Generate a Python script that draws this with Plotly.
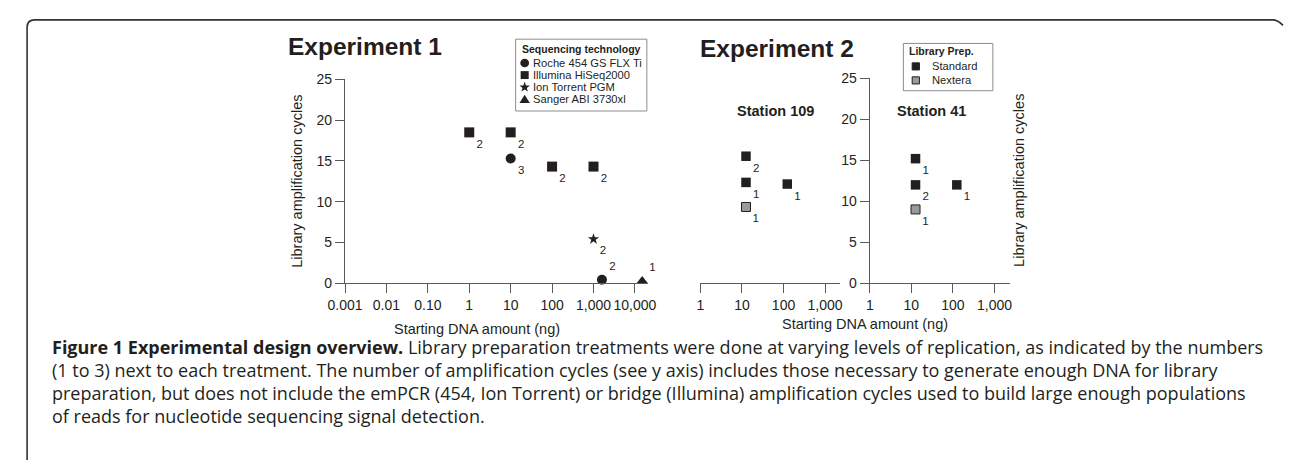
import numpy as np
import plotly.graph_objects as go

# ---------------- data ----------------
exp1_tick_vals = [0.001, 0.01, 0.1, 1, 10, 100, 1000, 10000]
exp1_tick_text = ["0.001", "0.01", "0.10", "1", "10", "100", "1,000", "10,000"]
exp2_tick_vals = [1, 10, 100, 1000]
exp2_tick_text = ["1", "10", "100", "1,000"]
cycle_ticks = [0, 5, 10, 15, 20, 25]

tech_names = ["Roche 454 GS FLX Ti", "Illumina HiSeq2000", "Ion Torrent PGM", "Sanger ABI 3730xl"]

# Experiment 1: starting DNA (ng), amplification cycles, replicates
roche_dna = [0.01, 10, 1600]
roche_cycles = [25.2, 15.3, 0.4]
roche_reps = [3, 3, 2]

illumina_dna = [1, 10, 100, 1000]
illumina_cycles = [18.5, 18.5, 14.3, 14.3]
illumina_reps = [2, 2, 2, 2]

iontorrent_dna = [1000]
iontorrent_cycles = [5.4]
iontorrent_reps = [2]

sanger_dna = [15000]
sanger_cycles = [0.3]
sanger_reps = [1]

# Experiment 2
prep_names = ["Standard", "Nextera"]
st109_std_dna = [12.5, 12.5, 123]
st109_std_cycles = [15.5, 12.3, 12.1]
st109_std_reps = [2, 1, 1]
st109_nxt_dna = [12.5]
st109_nxt_cycles = [9.3]
st109_nxt_reps = [1]

st41_std_dna = [12.6, 12.6, 124]
st41_std_cycles = [15.2, 12.0, 12.0]
st41_std_reps = [1, 2, 1]
st41_nxt_dna = [12.6]
st41_nxt_cycles = [9.0]
st41_nxt_reps = [1]

caption_lines = [
    "<b>Figure 1 Experimental design overview.</b> Library preparation treatments were done at varying levels of replication, as indicated by the numbers",
    "(1 to 3) next to each treatment. The number of amplification cycles (see y axis) includes those necessary to generate enough DNA for library",
    "preparation, but does not include the emPCR (454, Ion Torrent) or bridge (Illumina) amplification cycles used to build large enough populations",
    "of reads for nucleotide sequencing signal detection.",
]

# ---------------- styling / layout helpers ----------------
W, H = 1290, 460
FONT = "Liberation Sans, Arial, Helvetica, sans-serif"
INK = "#231f20"
AX = "#5a5a5a"
GRAY = "#9a9a9a"


def fx(px):
    return px / W


def fy(py):
    return 1 - py / H


def pt(px, py):
    return f"{fx(px):.5f},{fy(py):.5f}"


fig = go.Figure()

label_font = dict(family=FONT, size=11.5, color=INK)


def add_points(xs, ys, reps, symbol, size, xa, ya, fill=INK, positions=None, name=None):
    if positions is None:
        positions = ["bottom right"] * len(xs)
    fig.add_trace(go.Scatter(
        x=xs, y=ys, text=[str(r) for r in reps], mode="markers+text",
        textposition=positions, textfont=label_font,
        marker=dict(symbol=symbol, size=size, color=fill,
                    line=dict(color=INK, width=1 if fill != INK else 0)),
        xaxis=xa, yaxis=ya, cliponaxis=False, showlegend=False, name=name,
        hoverinfo="x+y",
    ))


add_points(roche_dna, roche_cycles, roche_reps, "circle", 10, "x", "y",
           positions=["bottom right", "bottom right", "top right"], name=tech_names[0])
add_points(illumina_dna, illumina_cycles, illumina_reps, "square", 10, "x", "y", name=tech_names[1])
add_points(iontorrent_dna, iontorrent_cycles, iontorrent_reps, "star", 8.5, "x", "y", name=tech_names[2])
add_points(sanger_dna, sanger_cycles, sanger_reps, "triangle-up", 9.5, "x", "y",
           positions=["top right"], name=tech_names[3])

add_points(st109_std_dna, st109_std_cycles, st109_std_reps, "square", 9.5, "x2", "y2", name=prep_names[0])
add_points(st109_nxt_dna, st109_nxt_cycles, st109_nxt_reps, "square", 9, "x2", "y2", fill=GRAY, name=prep_names[1])
add_points(st41_std_dna, st41_std_cycles, st41_std_reps, "square", 9.5, "x3", "y3", name=prep_names[0])
add_points(st41_nxt_dna, st41_nxt_cycles, st41_nxt_reps, "square", 9, "x3", "y3", fill=GRAY, name=prep_names[1])

tickfont = dict(family=FONT, size=14, color=INK)
common_x = dict(type="log", showgrid=False, zeroline=False, showline=True, linecolor=AX, linewidth=1.2,
                ticks="outside", ticklen=9, tickwidth=1.2, tickcolor=AX, tickfont=tickfont,
                fixedrange=True)
common_y = dict(range=[0, 25], showgrid=False, zeroline=False, showline=True, linecolor=AX, linewidth=1.2,
                ticks="outside", ticklen=9, tickwidth=1.2, tickcolor=AX, tickfont=tickfont,
                tickvals=cycle_ticks, fixedrange=True)

dec1 = 42.3
dec2 = 42.45
fig.update_layout(
    width=W, height=H, margin=dict(l=0, r=0, t=0, b=0),
    paper_bgcolor="white", plot_bgcolor="rgba(0,0,0,0)",
    showlegend=False,
    xaxis=dict(common_x, domain=[fx(334), fx(643)], range=[-3, -3 + (643 - 334) / dec1],
               tickvals=exp1_tick_vals, ticktext=exp1_tick_text, anchor="y"),
    yaxis=dict(common_y, domain=[fy(285), fy(74)], anchor="x"),
    xaxis2=dict(common_x, domain=[fx(697), fx(840)], range=[0, (840 - 697) / dec2],
                tickvals=exp2_tick_vals, ticktext=exp2_tick_text, anchor="y2"),
    yaxis2=dict(range=[0, 25], domain=[fy(285), fy(73)], visible=False, anchor="x2", fixedrange=True),
    xaxis3=dict(common_x, domain=[fx(870), fx(1013)], range=[0, (1013 - 870) / dec2],
                tickvals=exp2_tick_vals, ticktext=exp2_tick_text, anchor="y3"),
    yaxis3=dict(common_y, domain=[fy(285), fy(73)], anchor="x3"),
)

ann = []


def text(px, py, s, size, bold=False, xanchor="left", angle=0, family=FONT, color=INK):
    ann.append(dict(x=fx(px), y=fy(py), xref="paper", yref="paper", text=f"<b>{s}</b>" if bold else s,
                    showarrow=False, xanchor=xanchor, yanchor="middle", textangle=angle,
                    font=dict(family=family, size=size, color=color)))


# titles
text(274, 40, "Experiment 1", 24.5, bold=True)
text(695, 42, "Experiment 2", 24.5, bold=True)
text(774, 107, "Station 109", 14.5, bold=True, xanchor="center")
text(933, 107, "Station 41", 14.5, bold=True, xanchor="center")

# axis titles
text(285.5, 179.5, "Library amplification cycles", 14.5, xanchor="center", angle=-90)
text(1023, 178.5, "Library amplification cycles", 14.5, xanchor="center", angle=-90)
text(468.7, 333, "Starting DNA amount (ng)", 14.5, xanchor="center")
text(864.7, 327, "Starting DNA amount (ng)", 14.5, xanchor="center")

# legend 1
text(512.5, 42.8, "Sequencing technology", 10.5, bold=True)
legend1_rows = [57, 69.5, 81.6, 94.5]
for name, ry in zip(tech_names, legend1_rows):
    text(524, ry, name, 11.2)
# legend 2
text(908, 45, "Library Prep.", 10.5, bold=True)
legend2_rows = [60.5, 75]
for name, ry in zip(prep_names, legend2_rows):
    text(931.5, ry, name, 11.2)

# caption
cap_rows = [351, 375, 399, 423]
for line, ry in zip(caption_lines, cap_rows):
    text(33, ry, line, 18, family="Open Sans, sans-serif", color="#231f20")

fig.update_layout(annotations=ann)

shapes = []
# figure frame (rounded)
frame = (f"M {pt(9.3, 470)} L {pt(9.3, 20)} Q {pt(9.3, 12.3)} {pt(17, 12.3)} "
         f"L {pt(1281, 12.3)} Q {pt(1287, 12.3)} {pt(1292, 18)}")
shapes.append(dict(type="path", path=frame, xref="paper", yref="paper",
                   line=dict(color="#333333", width=1.6)))
# legend boxes
for x0, y0, x1, y1 in [(508.3, 32.3, 642.3, 106.7), (904.3, 36.7, 995.7, 85.7)]:
    shapes.append(dict(type="rect", xref="paper", yref="paper", x0=fx(x0), x1=fx(x1), y0=fy(y1), y1=fy(y0),
                       line=dict(color="#8c8c8c", width=1), fillcolor="white", layer="below"))

# legend 1 swatches
cx = 517.5
r = 4.5
shapes.append(dict(type="circle", xref="paper", yref="paper", x0=fx(cx - r), x1=fx(cx + r),
                   y0=fy(legend1_rows[0] + r), y1=fy(legend1_rows[0] - r),
                   fillcolor=INK, line=dict(width=0)))
s = 4.1
shapes.append(dict(type="rect", xref="paper", yref="paper", x0=fx(cx - s), x1=fx(cx + s),
                   y0=fy(legend1_rows[1] + s), y1=fy(legend1_rows[1] - s),
                   fillcolor=INK, line=dict(width=0)))
# star
sy = legend1_rows[2]
R, rr = 5.6, 2.3
star_pts = []
for k in range(10):
    ang = -np.pi / 2 + k * np.pi / 5
    rad = R if k % 2 == 0 else rr
    star_pts.append(pt(cx + rad * np.cos(ang), sy + 0.5 + rad * np.sin(ang)))
shapes.append(dict(type="path", xref="paper", yref="paper", path="M " + " L ".join(star_pts) + " Z",
                   fillcolor=INK, line=dict(width=0)))
# triangle
ty = legend1_rows[3]
tri = f"M {pt(cx - 5.3, ty + 4)} L {pt(cx + 5.3, ty + 4)} L {pt(cx, ty - 4.5)} Z"
shapes.append(dict(type="path", xref="paper", yref="paper", path=tri, fillcolor=INK, line=dict(width=0)))

# legend 2 swatches
cx2 = 917
s2 = 3.7
for ry, fill in zip(legend2_rows, [INK, GRAY]):
    shapes.append(dict(type="rect", xref="paper", yref="paper", x0=fx(cx2 - s2), x1=fx(cx2 + s2),
                       y0=fy(ry + s2), y1=fy(ry - s2), fillcolor=fill, line=dict(color=INK, width=1)))

fig.update_layout(shapes=shapes)

fig.write_html("out.html", config={"displayModeBar": False},
               post_script="document.body.style.margin='0';document.body.style.padding='0';")
